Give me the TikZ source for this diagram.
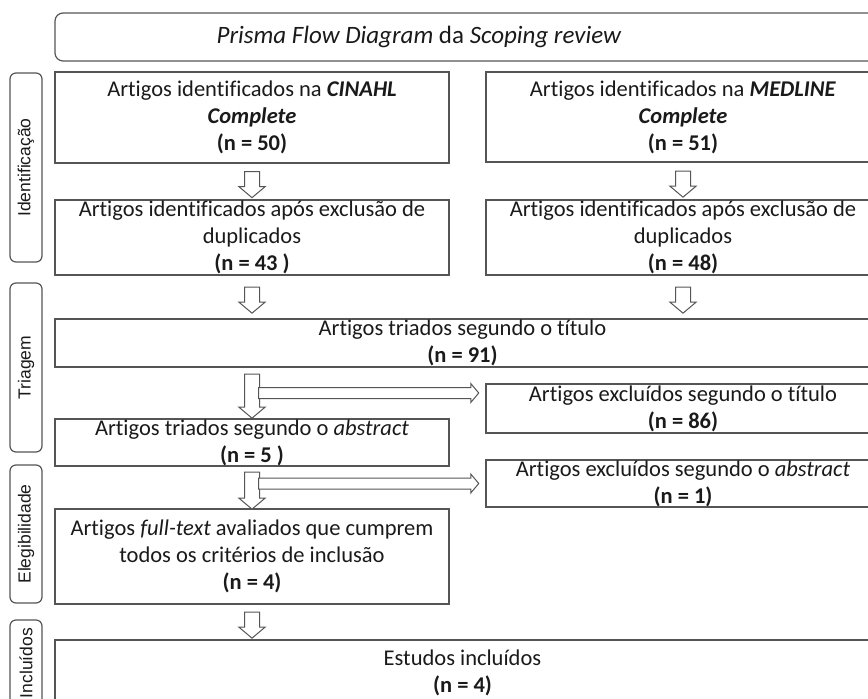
\documentclass[tikz,border=0pt]{standalone}
\usepackage{fontspec}
\setmainfont{Carlito}[RawFeature={-liga;-clig;-calt;-dlig}]
\newfontfamily\sidefont{Liberation Sans}
\usetikzlibrary{shapes.arrows,positioning}
\definecolor{linegray}{HTML}{555555}
\definecolor{textgray}{HTML}{1A1A1A}

\begin{document}
\begin{tikzpicture}[x=1pt,y=-1pt,
    box/.style={draw=linegray,line width=1.2pt,align=center,inner sep=0pt,
        text=textgray,font=\fontsize{22.5}{27}\selectfont},
    colbox/.style={box,minimum width=394pt,minimum height=#1},
    widebox/.style={box,minimum width=815pt,minimum height=#1},
    sidebox/.style={draw=linegray,line width=1.2pt,rounded corners=6pt,rotate=90,
        minimum height=32pt,minimum width=#1,inner sep=0pt,text=textgray,
        font=\sidefont\fontsize{17.5}{20}\selectfont},
    downarrow/.style={single arrow,draw=linegray,fill=white,line width=1pt,
        rotate=-90,inner xsep=0pt,inner ysep=7pt,single arrow head extend=5.5pt,
        single arrow tip angle=100,minimum height=#1},
    rightarrow/.style={single arrow,draw=linegray,fill=white,line width=1pt,
        inner xsep=0pt,inner ysep=5pt,single arrow head extend=4pt,
        single arrow tip angle=100,minimum height=#1}]
    \useasboundingbox (0,0) rectangle (868,699);
    \clip (0,0) rectangle (868,699);

    % title and phases
    \node[box,rounded corners=8pt,minimum width=825pt,minimum height=48pt] (title) at (467.5,37) {};
    \node[text=textgray,font=\fontsize{25}{30}\selectfont] (titletext) at (419,37)
        {\textit{Prisma Flow Diagram} da \textit{Scoping review}};
    \node[sidebox=189pt] (ident) at (26,167.5) {Identificação};
    \node[sidebox=169pt] (triag) at (26,367.5) {Triagem};
    \node[sidebox=138pt] (eleg) at (26,534) {Elegibilidade};
    \node[sidebox=86pt] (incl) at (26,663) {Incluídos};

    % boxes
    \node[colbox=91pt] (cinahl) at (252,117.5)
        {Artigos identificados na \textbf{\textit{CINAHL}}\\\textbf{\textit{Complete}}\\\textbf{(n = 50)}};
    \node[colbox=90pt] (medline) at (683,117)
        {Artigos identificados na \textbf{\textit{MEDLINE}}\\\textbf{\textit{Complete}}\\\textbf{(n = 51)}};
    \node[colbox=75pt] (dupcin) at (252,237.5)
        {Artigos identificados após exclusão de\\duplicados\\\textbf{(n = 43 )}};
    \node[colbox=75pt] (dupmed) at (683,237.5)
        {Artigos identificados após exclusão de\\duplicados\\\textbf{(n = 48)}};
    \node[widebox=48pt] (triados) at (462.5,343)
        {Artigos triados segundo o título\\\textbf{(n = 91)}};
    \node[colbox=49pt] (exclA) at (683,408.5)
        {Artigos excluídos segundo o título\\\textbf{(n = 86)}};
    \node[colbox=47pt] (abstr) at (252,442.5)
        {Artigos triados segundo o \textit{abstract}\\\textbf{(n = 5 )}};
    \node[colbox=47pt] (exclB) at (683,483.5)
        {Artigos excluídos segundo o \textit{abstract}\\\textbf{(n = 1)}};
    \node[colbox=95pt] (full) at (252,556.5)
        {Artigos \textit{full-text} avaliados que cumprem\\todos os critérios de inclusão\\\textbf{(n = 4)}};
    \node[widebox=66pt] (estudos) at (462.5,673)
        {Estudos incluídos\\\textbf{(n = 4)}};

    % block arrows
    \path (cinahl.south) -- (dupcin.north) node[midway,downarrow=26pt] (a1) {};
    \path (medline.south) -- (dupmed.north) node[midway,downarrow=26pt] (a2) {};
    \path (dupcin.south) -- (dupcin.south |- triados.north) node[midway,downarrow=26pt] (a3) {};
    \path (dupmed.south) -- (dupmed.south |- triados.north) node[midway,downarrow=26pt] (a4) {};
    \path (abstr.north |- triados.south) -- (abstr.north) node[midway,downarrow=44pt] (a5) {};
    \path (abstr.south) -- (full.north) node[midway,downarrow=37pt] (a6) {};
    \path (full.south) -- (full.south |- estudos.north) node[midway,downarrow=26pt] (a7) {};
    \node[rightarrow=220pt,anchor=tip,xshift=-6pt] (h1) at (a5.center -| exclA.west) {};
    \node[rightarrow=220pt,anchor=tip,xshift=-6pt,yshift=4pt] (h2) at (a6.center -| exclB.west) {};
\end{tikzpicture}
\end{document}
